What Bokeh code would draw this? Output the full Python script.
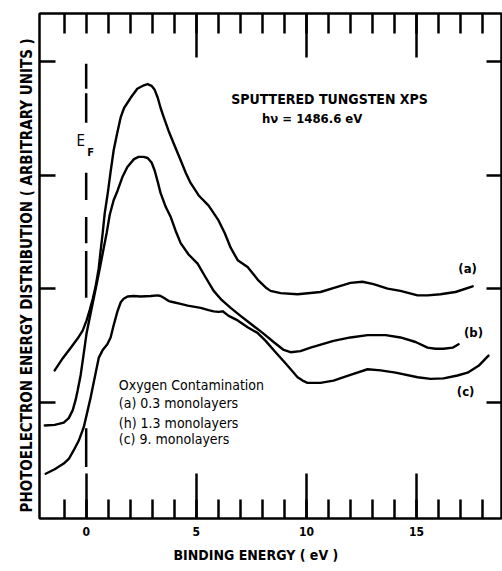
from bokeh.plotting import figure
from bokeh.models import Range1d, LinearAxis, FixedTicker, Label, CustomJSTickFormatter, Title
from bokeh.embed import file_html
from bokeh.resources import INLINE

# ---- data (binding energy eV, intensity arbitrary units) ----
a_x = [-1.43, -1.07, -0.70, -0.39, -0.16, 0.02, 0.16, 0.30, 0.43, 0.57, 0.66, 0.75, 0.84, 0.98, 1.11, 1.25,
       1.41, 1.57, 1.72, 2.02, 2.32, 2.62, 2.79, 2.97, 3.11, 3.25, 3.38, 3.52, 3.74, 3.97, 4.29, 4.52,
       4.74, 5.11, 5.56, 6.01, 6.29, 6.56, 6.88, 7.33, 7.83, 8.15, 8.37, 8.83, 9.60, 10.64, 11.33,
       12.0, 12.55, 13.05, 13.69, 14.27, 15.05, 15.50, 16.09, 16.77, 17.55]
a_y = [1.28, 1.385, 1.48, 1.56, 1.63, 1.72, 1.81, 1.91, 2.02, 2.18, 2.34, 2.49, 2.66, 2.84, 3.03, 3.22,
       3.37, 3.51, 3.59, 3.68, 3.76, 3.79, 3.80, 3.785, 3.75, 3.68, 3.59, 3.51, 3.39, 3.28, 3.13, 3.02,
       2.93, 2.82, 2.73, 2.60, 2.49, 2.36, 2.25, 2.19, 2.07, 2.01, 1.98, 1.96, 1.95, 1.97, 2.01,
       2.05, 2.06, 2.04, 2.00, 1.98, 1.94, 1.94, 1.95, 1.97, 2.02]

b_x = [-1.88, -1.43, -1.02, -0.79, -0.61, -0.48, -0.39, -0.25, -0.11, 0.02, 0.20, 0.39, 0.57, 0.75, 0.93,
       1.07, 1.25, 1.42, 1.64, 1.87, 2.17, 2.38, 2.61, 2.79, 2.97, 3.11, 3.25, 3.38, 3.61, 3.84, 4.06,
       4.29, 4.65, 5.06, 5.42, 5.79, 6.15, 6.56, 7.01, 7.47, 8.01, 8.51, 8.97, 9.28, 9.73, 10.19,
       11.23, 12.0, 12.78, 13.60, 14.27, 14.96, 15.50, 15.86, 16.23, 16.64, 16.91]
b_y = [0.795, 0.80, 0.82, 0.86, 0.93, 1.02, 1.10, 1.24, 1.43, 1.61, 1.78, 1.96, 2.13, 2.31, 2.49,
       2.65, 2.78, 2.86, 2.98, 3.07, 3.14, 3.16, 3.16, 3.15, 3.11, 3.04, 2.94, 2.84, 2.72, 2.63, 2.51,
       2.40, 2.30, 2.22, 2.10, 1.98, 1.90, 1.83, 1.76, 1.69, 1.61, 1.53, 1.46, 1.44, 1.45, 1.48,
       1.54, 1.57, 1.59, 1.59, 1.57, 1.53, 1.48, 1.47, 1.47, 1.48, 1.51]

c_x = [-1.84, -1.43, -1.02, -0.79, -0.57, -0.34, -0.11, 0.07, 0.20, 0.39, 0.57, 0.75, 0.96, 1.11, 1.25,
       1.42, 1.57, 1.70, 1.88, 2.16, 2.47, 2.93, 3.25, 3.38, 3.52, 3.75, 3.97, 4.29, 4.61, 5.20, 5.56,
       5.79, 6.01, 6.20, 6.47, 6.88, 7.33, 7.78, 8.15, 8.51, 9.06, 9.60, 9.83, 10.05, 10.64, 11.23,
       12.0, 12.78, 13.37, 14.05, 15.05, 15.64, 16.23, 16.86, 17.32, 17.82, 18.27]
c_y = [0.37, 0.41, 0.46, 0.50, 0.575, 0.66, 0.78, 0.93, 1.04, 1.22, 1.39, 1.46, 1.51, 1.57, 1.68,
       1.80, 1.88, 1.91, 1.93, 1.935, 1.93, 1.935, 1.94, 1.935, 1.92, 1.89, 1.88, 1.865, 1.85, 1.83, 1.81,
       1.80, 1.795, 1.80, 1.76, 1.72, 1.66, 1.61, 1.54, 1.46, 1.34, 1.22, 1.19, 1.17, 1.17, 1.19,
       1.24, 1.29, 1.28, 1.26, 1.22, 1.205, 1.21, 1.235, 1.26, 1.32, 1.41]

curve_labels = ["(a)", "(b)", "(c)"]
x_major_bottom = [0, 5, 10, 15]
x_major_top = [5, 10, 15]
x_minor = list(range(-1, 19))
y_ticks = [1, 2, 3, 4]
x_tick_labels = {0: "0", 5: "5", 10: "10", 15: "15"}

# Fermi-level marker (x = 0), drawn as dashes
EF = 0.0
ef_segments = [(3.98, 3.76), (3.72, 3.46), (3.02, 2.78), (2.63, 2.40), (2.33, 1.92), (0.77, 0.43)]

FONT = "DejaVu Sans Condensed"

p = figure(width=502, height=571, output_backend="svg", toolbar_location=None,
           x_range=Range1d(-2.12, 18.86), y_range=Range1d(-0.024, 4.422),
           min_border_left=39, min_border_right=1, min_border_top=13, min_border_bottom=53,
           x_axis_location=None, y_axis_location=None)
p.grid.visible = False
p.outline_line_color = "black"
p.outline_line_width = 2
p.background_fill_color = "white"
p.border_fill_color = "white"

empty = CustomJSTickFormatter(code="return ''")

def style(ax, major_in, minor_in):
    ax.axis_line_color = "black"
    ax.axis_line_width = 2
    ax.major_tick_line_color = "black"
    ax.major_tick_line_width = 2.5
    ax.minor_tick_line_color = "black"
    ax.minor_tick_line_width = 2.5
    ax.major_tick_in = major_in
    ax.major_tick_out = 0
    ax.minor_tick_in = minor_in
    ax.minor_tick_out = 0
    ax.major_label_text_color = "black"
    ax.axis_label_text_color = "black"

def bare(ax, standoff=0):
    ax.formatter = empty
    ax.major_label_standoff = standoff
    ax.major_label_text_font_size = "0px"

bottom = LinearAxis(ticker=FixedTicker(ticks=x_major_bottom, minor_ticks=x_minor),
                    major_label_overrides=x_tick_labels)
style(bottom, 45, 19)
bottom.major_label_text_font = FONT
bottom.major_label_text_font_style = "bold"
bottom.major_label_text_font_size = "12px"
bottom.major_label_standoff = 8
p.add_layout(bottom, "below")

top = LinearAxis(ticker=FixedTicker(ticks=x_major_top, minor_ticks=x_minor))
style(top, 44, 20)
bare(top)
p.add_layout(top, "above")

left = LinearAxis(ticker=FixedTicker(ticks=y_ticks, minor_ticks=[]))
style(left, 16, 0)
bare(left, standoff=9)
p.add_layout(left, "left")

right = LinearAxis(ticker=FixedTicker(ticks=y_ticks, minor_ticks=[]))
style(right, 15, 0)
bare(right)
p.add_layout(right, "right")

# axis titles as side-panel titles (placed off-centre like the original)
p.add_layout(Title(text="BINDING ENERGY ( eV )", align="left", offset=134, standoff=12,
                   text_font=FONT, text_font_size="14px", text_font_style="bold",
                   text_color="black"), "below")
p.add_layout(Title(text="PHOTOELECTRON ENERGY DISTRIBUTION ( ARBITRARY UNITS )", align="left",
                   offset=6, standoff=8, text_font=FONT, text_font_size="15px",
                   text_font_style="bold", text_color="black"), "left")

for xs, ys in [(a_x, a_y), (b_x, b_y), (c_x, c_y)]:
    p.line(xs, ys, line_color="black", line_width=2.4, line_join="round", line_cap="round")

for y0, y1 in ef_segments:
    p.line([EF, EF], [y0, y1], line_color="black", line_width=2.5)

def lab(text, x, y, size="12px", style="bold", align="center"):
    p.add_layout(Label(x=x, y=y, text=text, text_font=FONT, text_font_size=size,
                       text_font_style=style, text_align=align, text_baseline="middle",
                       text_color="black"))

lab("SPUTTERED TUNGSTEN XPS", 11.05, 3.67, size="14px")
lab("h\u03bd = 1486.6 eV", 10.26, 3.50, size="13px")
lab("E", -0.25, 3.30, size="15px", style="normal")
lab("F", 0.20, 3.20, size="11px", style="bold")

lab(curve_labels[0], 17.32, 2.18, size="13px")
lab(curve_labels[1], 17.59, 1.61, size="13px")
lab(curve_labels[2], 17.23, 1.09, size="13px")

lab("Oxygen Contamination", 1.48, 1.15, size="14px", style="normal", align="left")
lab("(a) 0.3 monolayers", 1.48, 0.99, size="14px", style="normal", align="left")
lab("(h) 1.3 monolayers", 1.48, 0.82, size="14px", style="normal", align="left")
lab("(c) 9.   monolayers", 1.48, 0.68, size="14px", style="normal", align="left")

open("out.html", "w").write(file_html(p, INLINE))
